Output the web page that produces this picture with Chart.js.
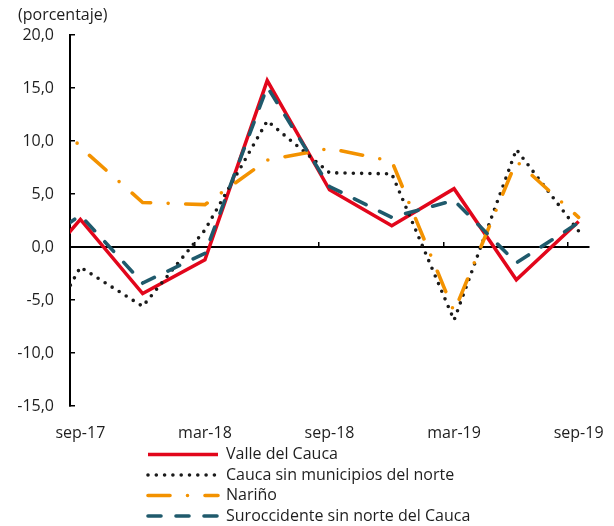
<!DOCTYPE html>
<html><head><meta charset="utf-8">
<script src="https://cdn.jsdelivr.net/npm/chart.js@4/dist/chart.umd.min.js"></script>
<style>html,body{margin:0;padding:0;background:#fff}canvas{display:block}</style>
</head><body>
<canvas id="c" width="614" height="526"></canvas>
<script>
// ---- data ----
const categories = ['jun-17','sep-17','dic-17','mar-18','jun-18','sep-18','dic-18','mar-19','jun-19','sep-19'];
const tickLabels = ['sep-17','mar-18','sep-18','mar-19','sep-19'];
const valleDelCauca = [-4.2, 2.6, -4.4, -1.2, 15.7, 5.4, 2.0, 5.5, -3.1, 2.4];
const caucaSinNorte = [-12.5, -1.9, -5.6, 1.6, 11.9, 7.0, 6.9, -6.9, 9.2, 1.5];
const narino = [17.0, 9.4, 4.2, 4.0, 8.2, 9.3, 8.1, -6.1, 8.1, 2.8];
const suroccidente = [-1.1, 3.0, -3.4, -0.6, 15.1, 5.7, 2.8, 4.4, -1.5, 2.3];
const yTicks = [-15, -10, -5, 0, 5, 10, 15, 20];

// ---- month positions (monthly date axis) ----
const MESES = ['ene','feb','mar','abr','may','jun','jul','ago','sep','oct','nov','dic'];
const monthNum = s => { const p = s.split('-'); return (2000 + Number(p[1])) * 12 + MESES.indexOf(p[0]); };
const base = monthNum(tickLabels[0]);
const pos = s => monthNum(s) - base;
const labelPos = tickLabels.map(pos);
const tickMarkPos = labelPos.map(v => v - 0.5);
const xMin = labelPos[0] - 0.5;
const xMax = labelPos[labelPos.length - 1] + 0.5;
const toPoints = vals => vals.map((v, i) => ({ x: pos(categories[i]), y: v }));

const TEXT = '#1e1e1e';
const FONT = { family: "'Open Sans', sans-serif", size: 16, weight: 'normal' };
Chart.defaults.font.family = FONT.family;
Chart.defaults.font.size = 16;
Chart.defaults.color = TEXT;

// legend laid out as a single left-aligned column below the axis
const LEGEND_LEFT = 143.5, LEGEND_W = 400, LEGEND_H = 84;
const legendColumn = {
  id: 'legendColumn',
  beforeLayout(chart) {
    const lg = chart.legend;
    if (lg && !lg.__col) {
      lg.__col = true;
      const fit = lg.fit;
      lg.fit = function () { fit.call(this); this.height = LEGEND_H; };
    }
  },
  afterLayout(chart) {
    const lg = chart.legend;
    if (!lg) return;
    lg.left = LEGEND_LEFT; lg.right = LEGEND_LEFT + LEGEND_W; lg.width = LEGEND_W;
  }
};

const mk = (label, vals, color, width, dash, cap, order) => ({
  label, data: toPoints(vals), borderColor: color, backgroundColor: color,
  borderWidth: width, borderDash: dash, borderCapStyle: cap,
  pointRadius: 0, pointHoverRadius: 0, tension: 0, fill: false, clip: 0, order,
  xAxisID: 'x', yAxisID: 'y'
});

new Chart(document.getElementById('c'), {
  type: 'line',
  data: {
    datasets: [
      mk('Valle del Cauca', valleDelCauca, '#e2061b', 3.5, [], 'butt', 4),
      mk('Cauca sin municipios del norte', caucaSinNorte, '#1a1a1a', 3.6, [0, 8.3], 'round', 3),
      mk('Nariño', narino, '#f39200', 3.6, [22, 17.5, 0, 17.5], 'round', 2),
      mk('Suroccidente sin norte del Cauca', suroccidente, '#1f5a6c', 3.6, [13, 15], 'round', 1)
    ]
  },
  options: {
    responsive: false,
    animation: false,
    events: [],
    layout: { padding: { left: 18, right: 25, top: 0, bottom: 0 } },
    plugins: {
      tooltip: { enabled: false },
      title: {
        display: true, text: '(porcentaje)', align: 'start', color: TEXT,
        font: FONT, padding: { top: 5.4, bottom: 10.4 }
      },
      legend: {
        display: true, position: 'bottom', align: 'start',
        labels: {
          usePointStyle: true, pointStyle: 'line', pointStyleWidth: 70,
          boxHeight: 16, padding: 4.5, color: TEXT, font: FONT,
          generateLabels: chart => chart.data.datasets.map((ds, i) => ({
            text: ds.label, fillStyle: ds.borderColor, strokeStyle: ds.borderColor,
            lineWidth: ds.borderWidth, lineDash: ds.borderDash, lineCap: ds.borderCapStyle,
            lineJoin: 'miter', pointStyle: 'line', hidden: false, datasetIndex: i, fontColor: TEXT
          }))
        }
      }
    },
    scales: {
      x: {
        type: 'linear', position: 'bottom', min: xMin, max: xMax,
        afterBuildTicks: s => { s.ticks = labelPos.map(v => ({ value: v })); },
        afterFit: s => { s.height = 36; },
        ticks: { callback: (v, i) => tickLabels[i], padding: 0, autoSkip: false, maxRotation: 0, color: TEXT, font: FONT },
        grid: { display: false, drawTicks: true, tickLength: 17.5 },
        border: { display: false }
      },
      x0: {
        type: 'linear', position: { y: 0 }, min: xMin, max: xMax,
        afterBuildTicks: s => { s.ticks = tickMarkPos.map(v => ({ value: v })); },
        afterFit: s => { s.height = 0; },
        ticks: { display: false },
        grid: { drawOnChartArea: false, drawTicks: true, tickLength: -6, color: '#000', lineWidth: 1.5 },
        border: { display: true, color: '#000', width: 2 }
      },
      y: {
        type: 'linear', position: 'left', min: yTicks[0], max: yTicks[yTicks.length - 1],
        afterBuildTicks: s => { s.ticks = yTicks.map(v => ({ value: v })); },
        afterFit: s => { s.width = 52; },
        ticks: { callback: v => v.toFixed(1).replace('.', ','), padding: 21, color: TEXT, font: FONT },
        grid: { drawOnChartArea: false, drawTicks: true, tickLength: -5, color: '#000', lineWidth: 1.5 },
        border: { display: true, color: '#000', width: 2 }
      }
    }
  },
  plugins: [legendColumn]
});
</script>
</body></html>
